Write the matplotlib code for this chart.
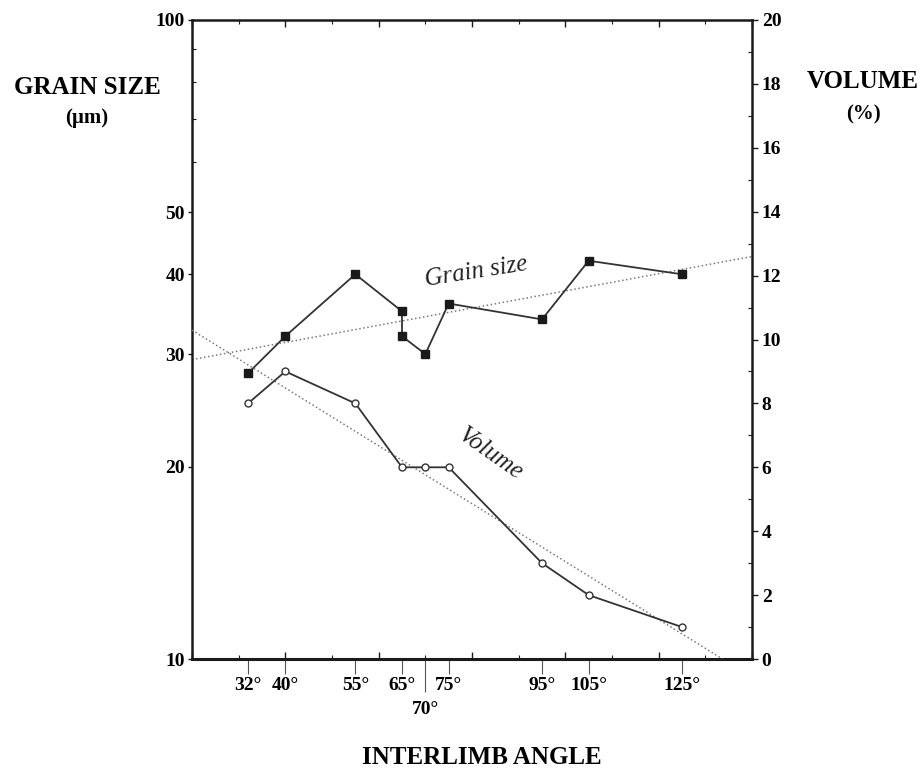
import numpy as np
import matplotlib
matplotlib.use("Agg")
import matplotlib.pyplot as plt
from matplotlib.ticker import FixedLocator, MultipleLocator, NullFormatter

# Data
grain_angle = [32, 40, 55, 65, 65, 70, 75, 95, 105, 125]
grain_size = [28, 32, 40, 35, 32, 30, 36, 34, 42, 40]          # um (log axis)

vol_angle = [32, 40, 55, 65, 70, 75, 95, 105, 125]
vol_pct = [8, 9, 8, 6, 6, 6, 3, 2, 1]                          # % (linear axis)

angle_ticks = [32, 40, 55, 65, 70, 75, 95, 105, 125]
grain_ticks = [10, 20, 30, 40, 50, 100]

plt.rcParams['font.family'] = ['Liberation Serif', 'DejaVu Serif']
ink = '#1a1a1a'

fig = plt.figure(figsize=(9.24, 7.72), dpi=100)
ax = fig.add_axes([192/924, 113/772, 560/924, 639/772])

# Left axis : grain size, log scale
ax.set_yscale('log')
ax.set_xlim(20, 140)
ax.set_ylim(10, 100)
ax.yaxis.set_major_locator(FixedLocator(grain_ticks))
ax.yaxis.set_minor_locator(FixedLocator([60, 70, 80, 90]))
ax.set_yticklabels([str(t) for t in grain_ticks])
ax.yaxis.set_minor_formatter(NullFormatter())
ax.tick_params(axis='y', which='major', direction='out', length=3, width=1,
               color=ink, labelsize=14, pad=2)
ax.tick_params(axis='y', which='minor', direction='in', length=3, width=0.8, color=ink)
for lab in ax.get_yticklabels():
    lab.set_fontweight('bold')

# x ticks at the measured angles (outward, labelled)
ax.xaxis.remove_overlapping_locs = False
ax.set_xticks(angle_ticks)
ax.set_xticklabels([f'{a}°' for a in angle_ticks], fontweight='bold', fontsize=14)
ax.tick_params(axis='x', which='major', direction='out', length=11, width=0.8,
               color='#555555', pad=2)
ax.xaxis.set_minor_locator(FixedLocator([]))
# the 70 degree label sits lower, on a longer tick
t70 = ax.xaxis.get_major_ticks()[angle_ticks.index(70)]
t70.set_pad(19)
t70.tick1line.set_markersize(24)

for s in ax.spines.values():
    s.set_linewidth(1.8)
    s.set_color(ink)
ax.spines['bottom'].set_linewidth(2.2)

# Grain size series + log-linear trend
ax.plot(grain_angle, grain_size, '-', color='#333333', lw=1.3, marker='s',
        ms=6, mfc=ink, mec=ink, zorder=3)
c = np.polyfit(grain_angle, np.log10(grain_size), 1)
xs = np.array([20, 140])
ax.plot(xs, 10 ** np.polyval(c, xs), ':', color='#7a7a7a', lw=1.1, zorder=2)

# Right axis : volume
ax2 = ax.twinx()
ax2.set_ylim(0, 20)
ax2.yaxis.set_major_locator(MultipleLocator(2))
ax2.yaxis.set_minor_locator(MultipleLocator(1))
ax2.tick_params(axis='y', which='major', direction='out', length=4, width=1,
                color=ink, labelsize=14, pad=3)
ax2.tick_params(axis='y', which='minor', direction='in', length=3, width=0.8, color=ink)
for lab in ax2.get_yticklabels():
    lab.set_fontweight('bold')
for s in ax2.spines.values():
    s.set_visible(False)

ax2.plot(vol_angle, vol_pct, '-', color='#333333', lw=1.3, marker='o',
         ms=5, mfc='white', mec='#333333', mew=1, zorder=3)
cv = np.polyfit(vol_angle, vol_pct, 1)
x0 = -cv[1] / cv[0]
xv = np.array([20, x0])
ax2.plot(xv, np.polyval(cv, xv), ':', color='#7a7a7a', lw=1.1, zorder=2)

# inward ticks every 10 degrees on bottom and top
ax3 = ax.twiny()
ax3.set_xlim(20, 140)
ax3.xaxis.set_major_locator(MultipleLocator(20))
ax3.xaxis.set_minor_locator(MultipleLocator(10))
ax3.tick_params(axis='x', which='both', direction='in', top=True, bottom=True,
                labeltop=False, labelbottom=False, color=ink)
ax3.tick_params(axis='x', which='major', length=5, width=1)
ax3.tick_params(axis='x', which='minor', length=3, width=0.8)
for s in ax3.spines.values():
    s.set_visible(False)

# Text
ax.text(81, 40.3, 'Grain size', fontsize=18, style='italic', rotation=9,
        ha='center', va='center', color='#222222')
ax2.text(84, 6.4, 'Volume', fontsize=18, style='italic', rotation=-35,
         ha='center', va='center', color='#222222')

fig.text(87/924, 1 - 87/772, 'GRAIN SIZE', fontsize=18, fontweight='bold',
         ha='center', va='center')
fig.text(87/924, 1 - 118/772, '(µm)', fontsize=15, fontweight='bold',
         ha='center', va='center')
fig.text(863/924, 1 - 82/772, 'VOLUME', fontsize=18, fontweight='bold',
         ha='center', va='center')
fig.text(863/924, 1 - 114/772, '(%)', fontsize=15, fontweight='bold',
         ha='center', va='center')
fig.text(482/924, 1 - 758/772, 'INTERLIMB ANGLE', fontsize=18, fontweight='bold',
         ha='center', va='center')

fig.savefig('out.png', dpi=100)
